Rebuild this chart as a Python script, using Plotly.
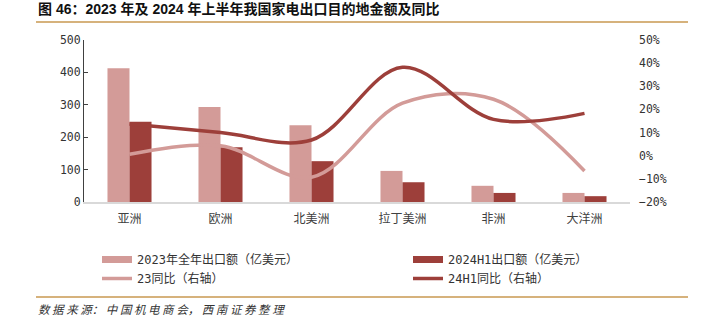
import plotly.graph_objects as go

categories = ["亚洲", "欧洲", "北美洲", "拉丁美洲", "非洲", "大洋洲"]
export_2023 = [413, 293, 237, 96, 50, 28]
export_2024h1 = [248, 169, 126, 61, 28, 18]
yoy_23 = [0.006, 0.043, -0.093, 0.227, 0.244, -0.066]
yoy_24h1 = [0.137, 0.100, 0.068, 0.382, 0.157, 0.183]

names = ["2023年全年出口额（亿美元）", "2024H1出口额（亿美元）", "23同比（右轴）", "24H1同比（右轴）"]

LIGHT = "#D39B98"
DARK = "#9D3F3A"
GOLD = "#D6B27C"

W, H = 701, 324
L, R, T, B = 84, 630, 40, 202

def px(x):
    return (x - L) / (R - L)

def py(y):
    return (B - y) / (B - T)

fig = go.Figure()
fig.add_trace(go.Bar(x=categories, y=export_2023, marker_color=LIGHT, marker_line_width=0,
                     name=names[0], showlegend=False))
fig.add_trace(go.Bar(x=categories, y=export_2024h1, marker_color=DARK, marker_line_width=0,
                     name=names[1], showlegend=False))
fig.add_trace(go.Scatter(x=categories, y=yoy_23, yaxis="y2", mode="lines",
                         line=dict(color=LIGHT, width=3.5, shape="spline", smoothing=1.0),
                         name=names[2], showlegend=False))
fig.add_trace(go.Scatter(x=categories, y=yoy_24h1, yaxis="y2", mode="lines",
                         line=dict(color=DARK, width=3.5, shape="spline", smoothing=1.0),
                         name=names[3], showlegend=False))

# legend entries: left column (legend) and right column (legend2)
for nm, col, wd, lg in [(names[0], LIGHT, 7, "legend"), (names[2], LIGHT, 3.5, "legend"),
                        (names[1], DARK, 7, "legend2"), (names[3], DARK, 3.5, "legend2")]:
    fig.add_trace(go.Scatter(x=[None], y=[None], mode="lines", line=dict(color=col, width=wd),
                             name=nm, showlegend=True, legend=lg))

legend_font = dict(family="DejaVu Sans Mono, Noto Sans CJK SC", size=12, color="#333333")
common_leg = dict(orientation="v", xref="container", yref="container",
                  y=1 - 245 / H, xanchor="left", yanchor="top", itemwidth=30,
                  traceorder="normal", tracegroupgap=0, font=legend_font,
                  bgcolor="rgba(0,0,0,0)")

fig.update_layout(
    width=W, height=H,
    margin=dict(l=L, r=W - R, t=T, b=H - B, autoexpand=False),
    paper_bgcolor="white", plot_bgcolor="white",
    barmode="group", bargap=0.516, bargroupgap=0,
    showlegend=True,
    legend=dict(x=97 / W, **common_leg),
    legend2=dict(x=408 / W, **common_leg),
    xaxis=dict(showline=True, linecolor="#D9D9D9", linewidth=2, ticks="",
               showgrid=False, zeroline=False, ticklabelstandoff=5,
               tickfont=dict(family="Noto Sans CJK SC", size=12, color="#404040")),
    yaxis=dict(range=[0, 500], dtick=100, showgrid=False, zeroline=False,
               showline=True, linecolor="#404040", linewidth=1,
               ticks="inside", ticklen=4, tickcolor="#404040",
               tickfont=dict(family="DejaVu Sans Mono", size=11.5, color="#333333")),
    yaxis2=dict(range=[-0.2, 0.5], dtick=0.1, tickformat=".0%", overlaying="y", side="right",
                showgrid=False, zeroline=False, showline=False, ticks="",
                ticklabelstandoff=8,
                tickfont=dict(family="DejaVu Sans Mono", size=11.5, color="#333333")),
    shapes=[
        dict(type="line", xref="paper", yref="paper", x0=px(36), x1=px(688), y0=py(22), y1=py(22),
             line=dict(color=GOLD, width=2)),
        dict(type="line", xref="paper", yref="paper", x0=px(36), x1=px(688), y0=py(297), y1=py(297),
             line=dict(color=GOLD, width=2)),
    ],
    annotations=[
        dict(text="图 46：2023 年及 2024 年上半年我国家电出口目的地金额及同比", xref="paper", yref="paper",
             x=px(36), y=py(9), xanchor="left", yanchor="middle", showarrow=False,
             font=dict(family="Liberation Sans, Noto Sans CJK SC", size=14, color="#111111", weight="bold")),
        dict(text="数 据 来 源： 中 国 机 电 商 会， 西 南 证 券 整 理", xref="paper", yref="paper",
             x=px(36), y=py(309), xanchor="left", yanchor="middle", showarrow=False,
             font=dict(family="Noto Sans CJK SC", size=11.5, color="#333333", style="italic")),
    ],
)

fig.write_html("out.html")
